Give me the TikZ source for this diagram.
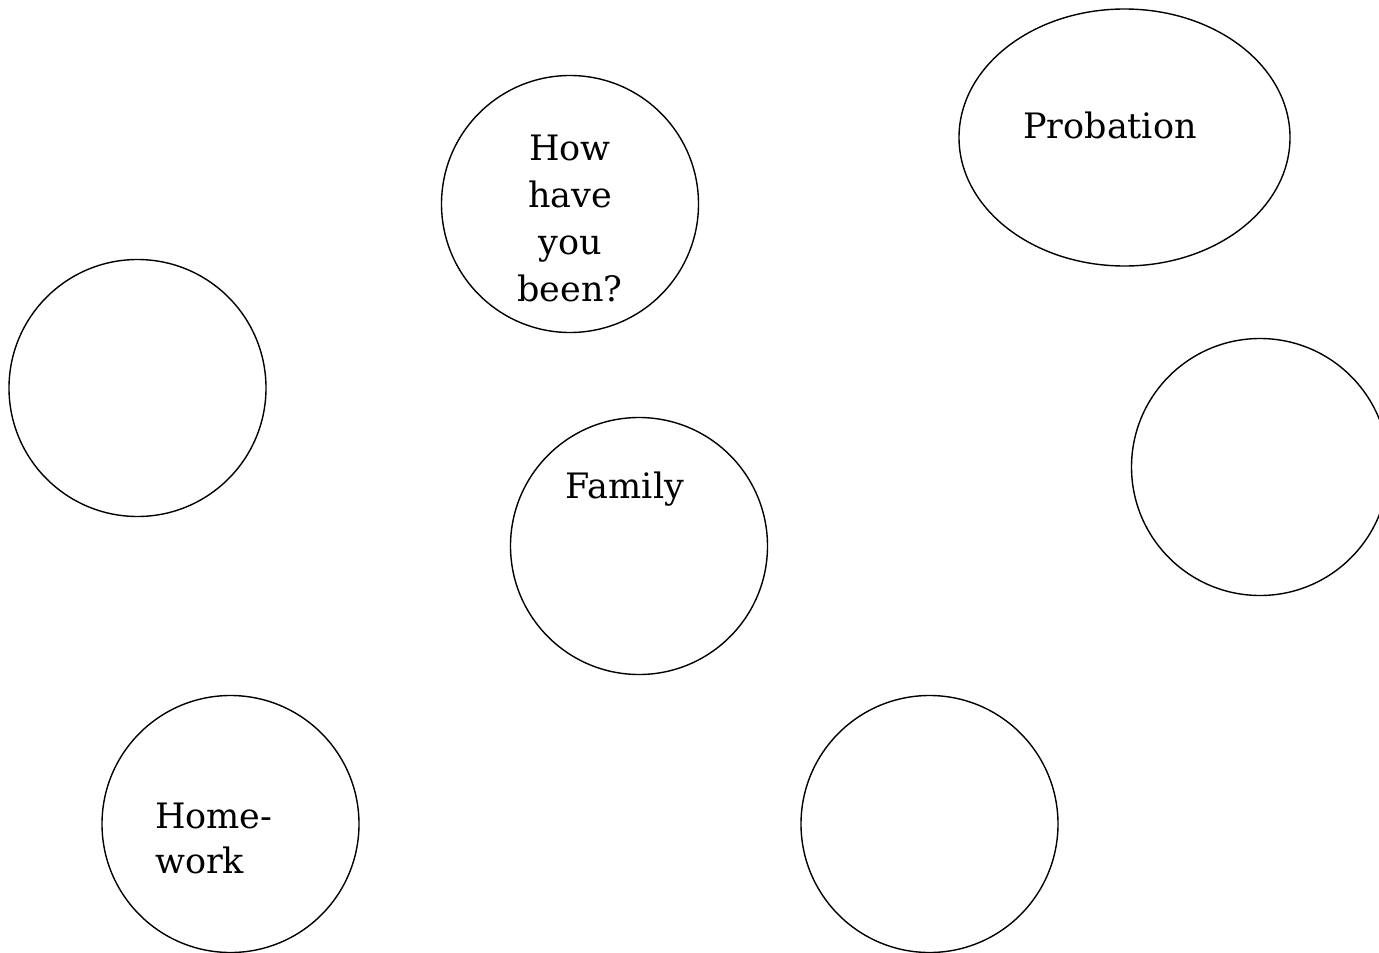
\documentclass[tikz,border=0pt]{standalone}
\usepackage{fontspec}
\setmainfont{DejaVu Serif}
\usetikzlibrary{positioning}

\tikzset{
  bubble/.style={draw=black, line width=1.4pt, circle, minimum size=257pt, inner sep=0pt},
  words/.style={font=\fontsize{35}{47}\selectfont, inner sep=0pt, anchor=base}
}

\begin{document}
\begin{tikzpicture}[x=1pt, y=-1pt]
  \useasboundingbox (0,0) rectangle (1379,953);
  \clip (0,0) rectangle (1379,953);

  % circles
  \node[bubble] (howbeen) at (570,204) {};
  \node[bubble] (leftempty) at (137.5,388) {};
  \node[bubble] (family) at (639,546) {};
  \node[bubble] (rightempty) at (1260,467) {};
  \node[bubble] (homework) at (230.5,824) {};
  \node[bubble] (bottomempty) at (929.5,824) {};
  \coordinate (probation) at (1124.5,137.5);
  \draw[line width=1.4pt] (probation) ellipse [x radius=165.5pt, y radius=128.5pt];

  % labels (base = last line)
  \node[words, align=center] (howtxt) at (570,301) {How\\have\\you\\been?};
  \node[words] (probtxt) at (1110,138) {Probation};
  \node[words] (famtxt) at (625,498) {Family};
  \node[words, align=left, anchor=base west, font=\fontsize{35}{45}\selectfont] (hometxt) at (155,873) {Home-\\work};
\end{tikzpicture}
\end{document}
